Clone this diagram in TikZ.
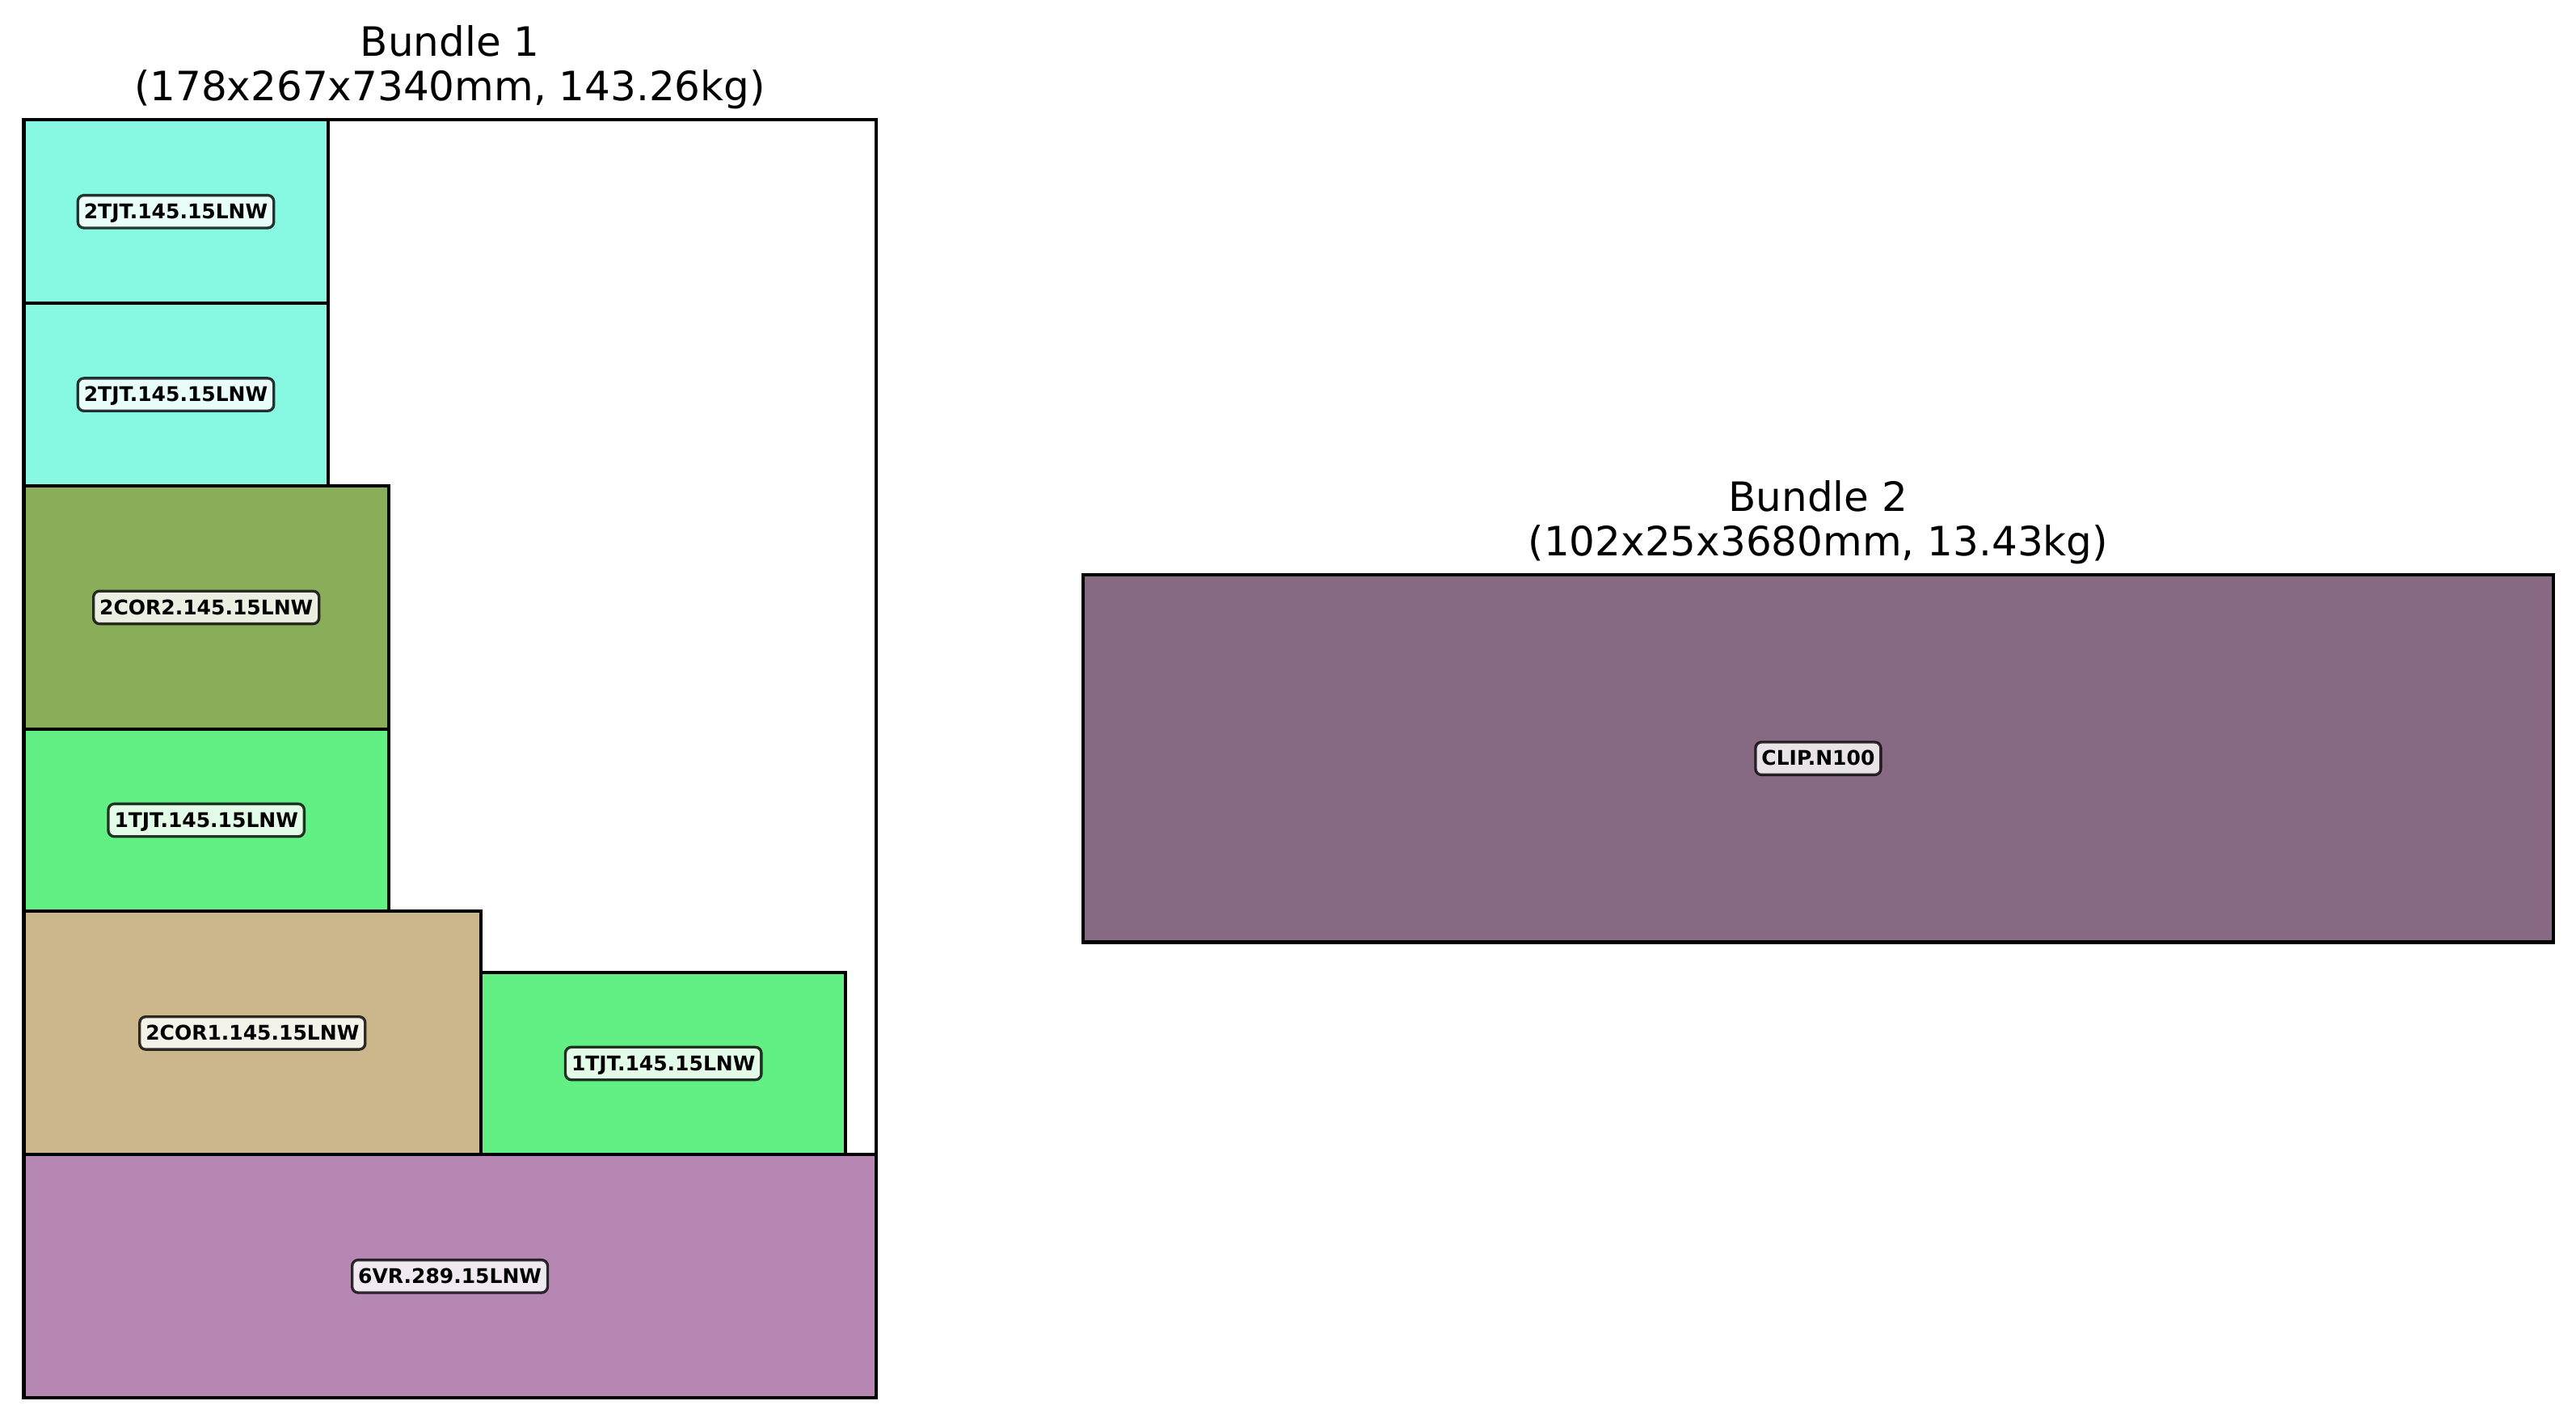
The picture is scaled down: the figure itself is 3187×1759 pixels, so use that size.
\documentclass[tikz,border=0pt]{standalone}
\usepackage{fontspec}
\setmainfont{DejaVu Sans}
\definecolor{ctjt2}{RGB}{135,248,226}
\definecolor{ccor2}{RGB}{138,173,90}
\definecolor{ctjt1}{RGB}{98,240,132}
\definecolor{ccor1}{RGB}{204,183,140}
\definecolor{cvr}{RGB}{182,135,179}
\definecolor{cclip}{RGB}{136,105,132}
\tikzset{
  piece/.style={draw=black, line width=1pt},
  lbl/.style={font=\fontsize{6}{7.2}\selectfont\bfseries, fill=white, fill opacity=0.82, text opacity=1,
    draw=black, draw opacity=0.8, line width=0.8pt, rounded corners=1.8pt,
    inner xsep=1.8pt, inner ysep=0pt, minimum height=9.7pt, text height=4.6pt, text depth=0.4pt},
  ttl/.style={font=\fontsize{12}{14.4}\selectfont, anchor=base, inner sep=0pt}
}
\begin{document}
\begin{tikzpicture}[x=0.24pt, y=-0.24pt]
\useasboundingbox (0,0) rectangle (3187,1759);
% Bundle 1
\draw[piece, fill=white] (29.5,148.3) rectangle (1083.8,1729.2);
\node[ttl] (b1ta) at (556.6,69.5) {Bundle 1};
\node[ttl] (b1tb) at (556.6,124.5) {(178x267x7340mm, 143.26kg)};
\draw[piece, fill=ctjt2] (29.5,148.3) rectangle (405.6,375.3);
\node[lbl] (p1) at (217.5,261.8) {2TJT.145.15LNW};
\draw[piece, fill=ctjt2] (29.5,375.3) rectangle (405.6,600.9);
\node[lbl] (p2) at (217.5,488.1) {2TJT.145.15LNW};
\draw[piece, fill=ccor2] (29.5,600.9) rectangle (480.8,901.8);
\node[lbl] (p3) at (255.2,751.4) {2COR2.145.15LNW};
\draw[piece, fill=ctjt1] (29.5,901.8) rectangle (480.8,1127.4);
\node[lbl] (p4) at (255.2,1014.6) {1TJT.145.15LNW};
\draw[piece, fill=ccor1] (29.5,1127.4) rectangle (595,1428.3);
\node[lbl] (p5) at (312.3,1277.9) {2COR1.145.15LNW};
\draw[piece, fill=ctjt1] (595,1202.7) rectangle (1046.3,1428.3);
\node[lbl] (p6) at (820.7,1315.5) {1TJT.145.15LNW};
\draw[piece, fill=cvr] (29.5,1428.3) rectangle (1083.8,1729.2);
\node[lbl] (p7) at (556.6,1578.8) {6VR.289.15LNW};
% Bundle 2
\node[ttl] (b2ta) at (2249.4,632) {Bundle 2};
\node[ttl] (b2tb) at (2249.4,687) {(102x25x3680mm, 13.43kg)};
\draw[piece, fill=cclip] (1339.7,711) rectangle (3159,1165.5);
\node[lbl] (p8) at (2249.4,938.2) {CLIP.N100};
\end{tikzpicture}
\end{document}
